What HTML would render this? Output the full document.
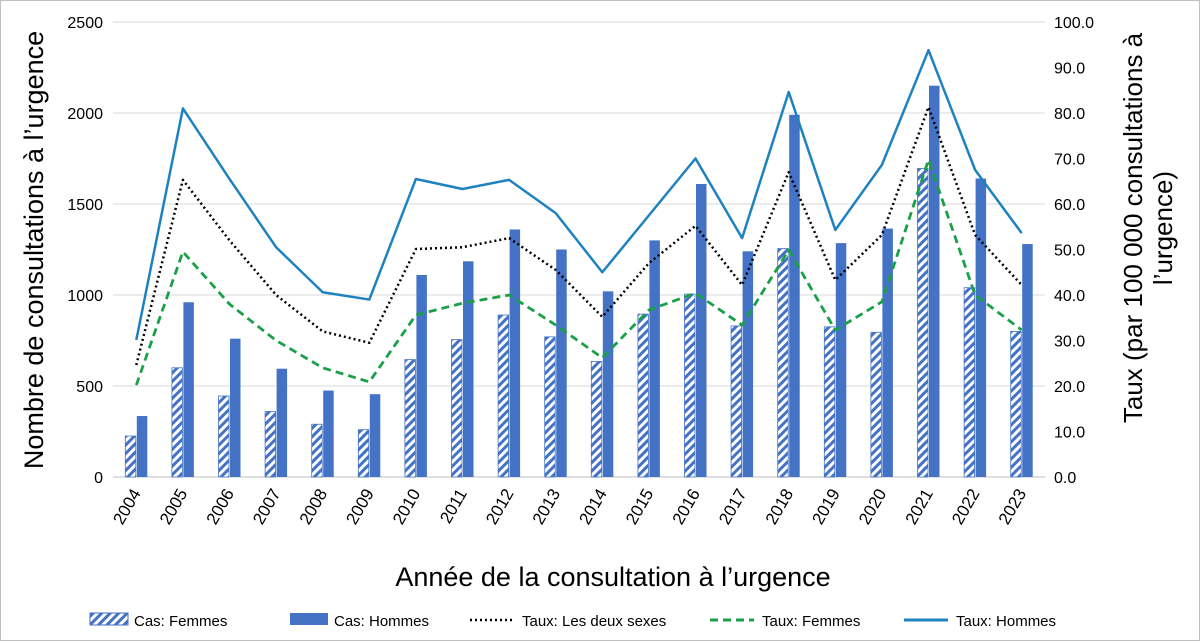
<!DOCTYPE html>
<html><head><meta charset="utf-8"><style>
html,body{margin:0;padding:0;background:#fff}
svg{display:block;font-family:"Liberation Sans",Arial,sans-serif}
</style></head><body>
<svg id="chart" width="1200" height="641" viewBox="0 0 1200 641">
<defs>
<pattern id="hatch" patternUnits="userSpaceOnUse" width="6" height="6" patternTransform="rotate(45)">
<rect width="6" height="6" fill="#fff"/><rect width="3" height="6" fill="#4472C4"/>
</pattern>
</defs>
<rect x="0.5" y="0.5" width="1199" height="640" fill="#fff" stroke="#bfbfbf"/>
<g id="grid"></g><g id="bars"></g><g id="lines"></g><g id="axes"></g>
<text x="0" y="0" transform="translate(43,250) rotate(-90)" text-anchor="middle" font-size="27" fill="#000">Nombre de consultations à l’urgence</text>
<text text-anchor="middle" font-size="26" fill="#000" transform="translate(1142,228) rotate(-90)"><tspan x="0" y="0">Taux (par 100 000 consultations à</tspan><tspan x="0" y="30">l’urgence)</tspan></text>
<text x="613" y="586" text-anchor="middle" font-size="27" fill="#000">Année de la consultation à l’urgence</text>
<g font-size="15" fill="#000">
<g><rect x="90" y="613" width="38" height="12" fill="url(#hatch)" stroke="#4472C4"/><text x="134" y="626">Cas: Femmes</text></g>
<g><rect x="290" y="613" width="38" height="12" fill="#4472C4"/><text x="334" y="626">Cas: Hommes</text></g>
<g><line x1="470" y1="620" x2="514" y2="620" stroke="#000" stroke-width="2.5" stroke-dasharray="2 3"/><text x="522" y="626">Taux: Les deux sexes</text></g>
<g><line x1="710" y1="620" x2="754" y2="620" stroke="#1BA049" stroke-width="3" stroke-dasharray="8 5"/><text x="762" y="626">Taux: Femmes</text></g>
<g><line x1="904" y1="620" x2="948" y2="620" stroke="#1F82C0" stroke-width="3"/><text x="956" y="626">Taux: Hommes</text></g>
</g>
</svg>
<script>
const years=["2004","2005","2006","2007","2008","2009","2010","2011","2012","2013","2014","2015","2016","2017","2018","2019","2020","2021","2022","2023"];
const casFemmes=[225,600,445,360,290,260,645,755,890,770,635,895,1005,830,1255,825,795,1695,1040,800];
const casHommes=[335,960,760,595,475,455,1110,1185,1360,1250,1020,1300,1610,1240,1990,1285,1365,2150,1640,1280];
const tauxDeux=[24.6,65.3,52,40,32,29.5,50.1,50.5,52.5,45.5,35.2,47,55.2,42.2,67,43.3,53.2,81.3,53.2,42.2];
const tauxFemmes=[20.2,49.5,38,30,24,20.9,35.6,38.2,40,33.4,26.2,36.7,40.4,33.4,49.9,32.3,38.5,69.7,40,32.3];
const tauxHommes=[30.1,81,65.5,50.5,40.6,39,65.5,63.3,65.3,58,45,57.5,70,52.5,84.6,54.3,68.6,93.8,67.5,53.6];
const leftTicks=[0,500,1000,1500,2000,2500];
const rightTicks=["0.0","10.0","20.0","30.0","40.0","50.0","60.0","70.0","80.0","90.0","100.0"];
const NS="http://www.w3.org/2000/svg";
const X0=113,X1=1045,Y0=477,Y1=22;
const step=(X1-X0)/years.length;
const xc=i=>X0+step*(i+0.5);
const yL=v=>Y0-(v/2500)*(Y0-Y1);
const yR=v=>Y0-(v/100)*(Y0-Y1);
function mk(tag,attrs,parent){const e=document.createElementNS(NS,tag);for(const k in attrs)e.setAttribute(k,attrs[k]);document.getElementById(parent).appendChild(e);return e;}
leftTicks.forEach(t=>{
  const g=mk("line",{x1:X0,x2:X1,y1:yL(t),y2:yL(t),stroke:t===0?"#bfbfbf":"#d9d9d9","stroke-width":1},"grid");
  
  
  const l=mk("text",{x:X0-10,y:yL(t)+6,"text-anchor":"end","font-size":16},"axes");
  l.textContent=t;
  
  
});
rightTicks.forEach(t=>{
  const l=mk("text",{x:X1+9,y:yR(parseFloat(t))+6,"text-anchor":"start","font-size":16},"axes");
  l.textContent=t;
  
  
});
years.forEach((y,i)=>{
  const bw=10.5;
  const f=mk("rect",{x:xc(i)-bw-0.5,y:yL(casFemmes[i]),width:bw,height:Y0-yL(casFemmes[i]),fill:"url(#hatch)",stroke:"#4472C4","stroke-width":0.8},"bars");
  
  
  const h=mk("rect",{x:xc(i)+0.5,y:yL(casHommes[i]),width:bw,height:Y0-yL(casHommes[i]),fill:"#4472C4"},"bars");
  
  
  const t=mk("text",{x:0,y:0,"text-anchor":"end","font-size":17,transform:`translate(${xc(i)+5},${Y0+16}) rotate(-60)`},"axes");
  t.textContent=y;
  
  
});
function line(arr,stroke,dash,w,name){
  const pts=arr.map((v,i)=>xc(i)+","+yR(v)).join(" ");
  const p=mk("polyline",{points:pts,fill:"none",stroke:stroke,"stroke-width":w,"stroke-dasharray":dash,"stroke-linejoin":"round"},"lines");
  
  
}
line(tauxHommes,"#1F82C0","none",2.5,"line-taux-hommes");
line(tauxDeux,"#000","2 3",2.5,"line-taux-deux-sexes");
line(tauxFemmes,"#1BA049","8 5",2.8,"line-taux-femmes");
</script>
</body></html>
